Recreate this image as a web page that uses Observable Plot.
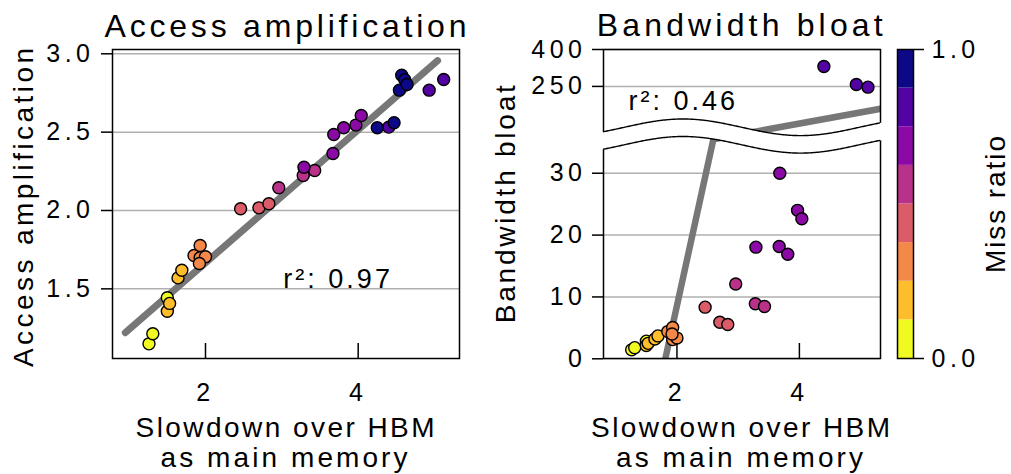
<!DOCTYPE html>
<html>
<head>
<meta charset="utf-8">
<script src="https://cdn.jsdelivr.net/npm/d3@7"></script>
<script src="https://cdn.jsdelivr.net/npm/@observablehq/plot@0.6"></script>
<style>
  body { margin: 0; background: #fff; }
  #chart { position: relative; width: 1011px; height: 474px; font-family: "Liberation Sans", Arial, sans-serif; }
  .panel { position: absolute; top: 0; }
  .panel svg text { letter-spacing: 4.5px; }
  .panel svg g[aria-label="text"] text { letter-spacing: 3px; }
  .panel svg g[aria-label$="tick"] { stroke-width: 1.5px; }
  #labels { position: absolute; left: 0; top: 0; pointer-events: none; }
</style>
</head>
<body>
<div id="chart"></div>
<script>
// ---- data: one entry per workload ----
const slowdown = [1.26, 1.31, 1.50, 1.50, 1.53, 1.64, 1.69, 1.85, 1.93, 1.93, 2.00, 1.92,
  2.46, 2.70, 2.83, 2.96, 3.28, 3.43, 3.29, 3.67, 3.68, 3.81, 3.97, 4.04,
  4.40, 4.93, 5.12, 4.25, 4.47, 4.54, 4.57, 4.61, 4.64];
const accessAmplification = [1.149, 1.213, 1.443, 1.357, 1.407, 1.570, 1.619, 1.713, 1.777, 1.698, 1.705, 1.662,
  2.011, 2.017, 2.043, 2.145, 2.223, 2.255, 2.276, 2.364, 2.485, 2.528, 2.545, 2.606,
  2.532, 2.768, 2.836, 2.528, 2.560, 2.768, 2.863, 2.835, 2.804];
// null: bloat above the 400 cut-off of the axis
const bandwidthBloat = [1.45, 1.8, 2.85, 2.15, 2.5, 3.2, 3.7, 4.4, 5.05, 3.1, 3.35, 4.0,
  8.35, 5.9, 5.55, 12.1, 8.9, 8.45, 18.05, 18.15, 30.0, 16.9, 24.0, 22.65,
  331, 258, 247, null, null, null, null, null, null];
const missRatio = [0.06, 0.06, 0.06, 0.19, 0.19, 0.19, 0.19, 0.31, 0.31, 0.31, 0.31, 0.31,
  0.44, 0.44, 0.44, 0.56, 0.56, 0.56, 0.69, 0.69, 0.69, 0.69, 0.69, 0.69,
  0.81, 0.81, 0.81, 0.94, 0.94, 0.94, 0.94, 0.94, 0.94];

// linear fits (slope, intercept, x extent) and their r²
const ampFit = {slope: 0.4245, intercept: 0.817, x0: 0.95, x1: 5.04, r2: 0.97};
const bloatFit = {slope: 45.2, intercept: -81.8, x0: 0.95, x1: 5.45, r2: 0.46};

// ticks
const xTicks = [2, 4];
const ampTicks = [1.5, 2.0, 2.5, 3.0];
const bloatTicks = [0, 10, 20, 30, 250, 400];
const bloatBreak = 35.5;                 // the y axis is cut here
const missEdges = [0, 0.125, 0.25, 0.375, 0.5, 0.625, 0.75, 0.875, 1];
const colorbarTicks = [0, 1];

// ---- derived tables ----
const points = slowdown.map((s, i) => ({
  slowdown: s, amp: accessAmplification[i], bloat: bandwidthBloat[i], miss: missRatio[i]
}));
const plasma8 = d3.quantize(d3.interpolatePlasma, 8).reverse();
const colorOpts = {type: "threshold", domain: missEdges.slice(1, -1), range: plasma8};

const fitPoints = (f, brk) => {
  const pts = [{x: f.x0, y: f.slope * f.x0 + f.intercept}];
  if (brk != null) pts.push({x: (brk - f.intercept) / f.slope, y: brk});
  pts.push({x: f.x1, y: f.slope * f.x1 + f.intercept});
  return pts;
};
const bins = missEdges.slice(0, -1).map((lo, i) => ({lo, hi: missEdges[i + 1], mid: (lo + missEdges[i + 1]) / 2}));

const FONT = "Liberation Sans, Arial, sans-serif";
const baseStyle = {fontSize: "25px", fontFamily: FONT, background: "transparent", color: "black", overflow: "visible"};
const H = 474, MT = 49, MB = 116;
const frameH = H - MT - MB;
const chart = document.getElementById("chart");

function place(svg, left, width) {
  const d = document.createElement("div");
  d.className = "panel";
  d.style.left = left + "px";
  d.style.width = width + "px";
  d.appendChild(svg);
  chart.appendChild(d);
}

// ---- left panel: access amplification ----
const left = Plot.plot({
  width: 475, height: H,
  marginLeft: 112, marginRight: 16, marginTop: MT, marginBottom: MB,
  style: baseStyle,
  x: {domain: [0.782, 5.327], ticks: xTicks, tickFormat: d3.format("d"), tickSize: 0, tickPadding: 25, label: null},
  y: {domain: [1.0555, 3.0274], ticks: ampTicks, tickFormat: ".1f", tickSize: 11, tickPadding: 7, label: null},
  color: colorOpts,
  marks: [
    Plot.ruleY(ampTicks, {stroke: "#b0b0b0", strokeWidth: 1.5}),
    Plot.line(fitPoints(ampFit), {x: "x", y: "y", stroke: "#777", strokeWidth: 7, clip: true}),
    Plot.dot(points, {x: "slowdown", y: "amp", r: 6, fill: "miss", stroke: "black", strokeWidth: 1.4}),
    Plot.ruleX(xTicks, {insetTop: frameH - 15, stroke: "black", strokeWidth: 1.5}),
    Plot.text([`r²: ${ampFit.r2.toFixed(2)}`], {x: 3.02, y: 1.507, text: d => d, textAnchor: "start", lineAnchor: "bottom", fontSize: 27}),
    Plot.frame({stroke: "black", strokeWidth: 1.5})
  ]
});
place(left, 0, 475);

// ---- right panel: bandwidth bloat, broken y axis ----
const right = Plot.plot({
  width: 410, height: H,
  marginLeft: 128, marginRight: 5, marginTop: MT, marginBottom: MB,
  style: baseStyle,
  x: {domain: [0.80, 5.325], ticks: xTicks, tickFormat: d3.format("d"), tickSize: 0, tickPadding: 25, label: null},
  y: {type: "linear", domain: [0, bloatBreak, 400], range: [358.3, 138.7, 49],
      ticks: bloatTicks, tickFormat: d3.format("d"), tickSize: 11, tickPadding: 6, label: null},
  color: colorOpts,
  marks: [
    Plot.ruleY(bloatTicks, {stroke: "#b0b0b0", strokeWidth: 1.5}),
    Plot.line(fitPoints(bloatFit, bloatBreak), {x: "x", y: "y", stroke: "#777", strokeWidth: 6.5, clip: true}),
    Plot.dot(points, {x: "slowdown", y: "bloat", r: 6, fill: "miss", stroke: "black", strokeWidth: 1.4, clip: true}),
    Plot.ruleX(xTicks, {insetTop: frameH - 15, stroke: "black", strokeWidth: 1.5}),
    Plot.text([`r²: ${bloatFit.r2.toFixed(2)}`], {x: 1.21, y: 153, text: d => d, textAnchor: "start", lineAnchor: "bottom", fontSize: 27}),
    Plot.frame({stroke: "black", strokeWidth: 1.5})
  ]
});
place(right, 475, 410);

// wavy cut across the y axis at the break value
{
  const yb = right.scale("y").apply(bloatBreak);
  const xs = right.scale("x").range;           // frame left/right
  const [fx0, fx1] = [Math.min(...xs), Math.max(...xs)];
  const period = 235, amp = 8.3, peak = fx0 + 80;
  const wave = (x, off) => yb + off - amp * Math.cos(2 * Math.PI * (x - peak) / period);
  const xsamp = d3.range(fx0 - 2, fx1 + 2.01, 1);
  const upper = xsamp.map(x => [x, wave(x, -11.4)]);
  const lower = xsamp.map(x => [x, wave(x, 6.1)]);
  const g = d3.select(right).append("g");
  g.append("path")
    .attr("d", d3.line()(upper.concat(lower.slice().reverse())) + "Z")
    .attr("fill", "white");
  const inner = pts => pts.filter(([x]) => x >= fx0 && x <= fx1);
  for (const edge of [upper, lower]) {
    g.append("path").attr("d", d3.line()(inner(edge)))
      .attr("fill", "none").attr("stroke", "black").attr("stroke-width", 1.4);
  }
}

// ---- colour bar ----
const bar = Plot.plot({
  width: 126, height: H,
  marginLeft: 12, marginRight: 98, marginTop: MT, marginBottom: MB,
  style: baseStyle,
  y: {domain: [0, 1], ticks: colorbarTicks, tickFormat: ".1f", tickSize: 10, tickPadding: 8, axis: "right", label: null},
  color: colorOpts,
  marks: [
    Plot.rect(bins, {y1: "lo", y2: "hi", fill: "mid"}),
    Plot.frame({stroke: "black", strokeWidth: 1.5})
  ]
});
place(bar, 885, 126);

// ---- titles and axis labels ----
const labels = d3.select(chart).append("svg")
  .attr("id", "labels").attr("width", 1011).attr("height", 474)
  .style("font-family", FONT);
const label = (txt, x, y, size, len, rotate = false) => {
  labels.append("text")
    .attr("transform", `translate(${x},${y})${rotate ? " rotate(-90)" : ""}`)
    .attr("text-anchor", "middle")
    .attr("font-size", size)
    .attr("textLength", len)
    .attr("lengthAdjust", "spacing")
    .text(txt);
};
label("Access amplification", 285.5, 37, 32, 362);
label("Bandwidth bloat", 739.7, 36, 32, 286);
for (const cx of [285, 740.5]) {
  label("Slowdown over HBM", cx, 437, 28, 299);
  label("as main memory", cx - 1, 466.7, 28, 247);
}
label("Access amplification", 33.3, 207.5, 28, 319, true);
label("Bandwidth bloat", 515, 204.2, 28, 238, true);
label("Miss ratio", 1004.5, 204.5, 28, 137, true);
</script>
</body>
</html>
